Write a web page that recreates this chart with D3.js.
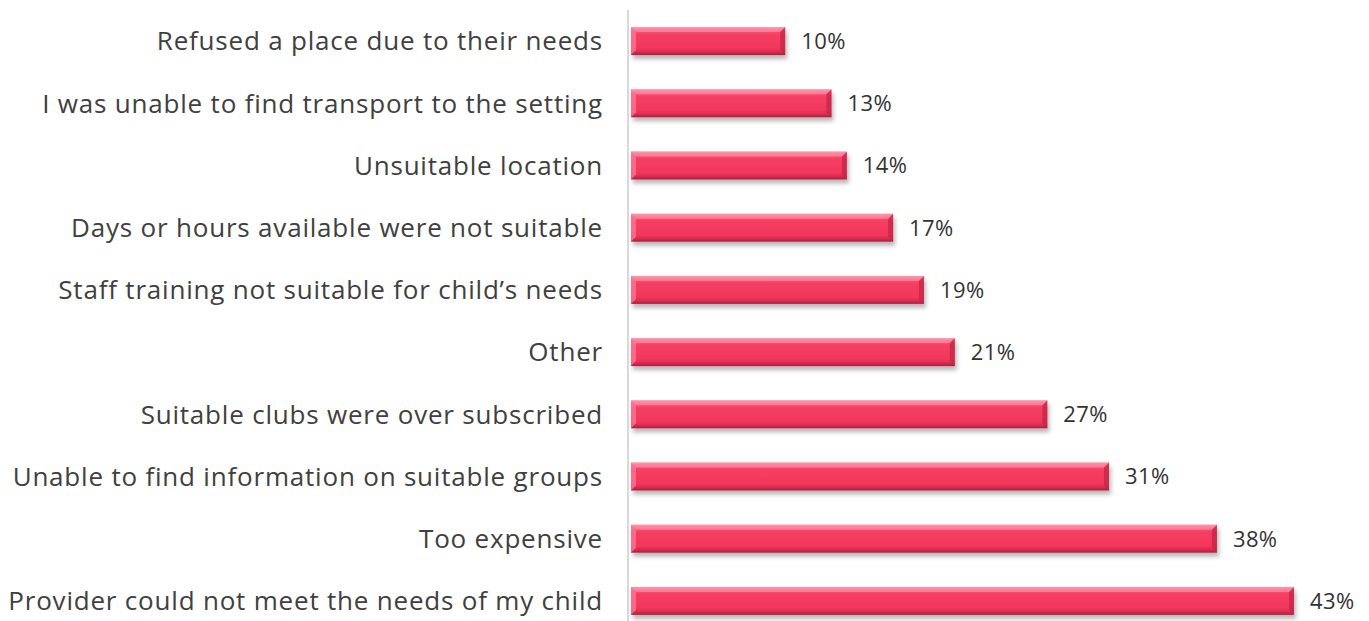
<!DOCTYPE html>
<html>
<head>
<meta charset="utf-8">
<script src="https://cdn.jsdelivr.net/npm/d3@7"></script>
<style>
  html, body { margin: 0; padding: 0; background: #fff; }
  svg { display: block; }
</style>
</head>
<body>
<svg id="chart" width="1369" height="621"></svg>
<script>
// Reasons given for not using a setting, share of respondents (%)
const categories = [
  "Refused a place due to their needs",
  "I was unable to find transport to the setting",
  "Unsuitable location",
  "Days or hours available were not suitable",
  "Staff training not suitable for child\u2019s needs",
  "Other",
  "Suitable clubs were over subscribed",
  "Unable to find information on suitable groups",
  "Too expensive",
  "Provider could not meet the needs of my child"
];
const values = [10, 13, 14, 17, 19, 21, 27, 31, 38, 43];
const valueLabels = values.map(v => v + "%");

const svg = d3.select("#chart");
const W = 1369, H = 621;
const axisX = 628;
const barX0 = 631;

const x = d3.scaleLinear().domain([0, 43]).range([barX0, 1294]);
const y = d3.scaleBand().domain(categories).range([10, 632]).paddingInner(0.55).paddingOuter(0.275);

const defs = svg.append("defs");
const grad = defs.append("linearGradient").attr("id", "barFill")
  .attr("x1", 0).attr("y1", 0).attr("x2", 0).attr("y2", 1);
[[0, "#ff8aa2"], [0.12, "#fb5a7a"], [0.25, "#f53f63"], [0.75, "#f2375c"], [0.88, "#dc2d50"], [1, "#a81f3d"]]
  .forEach(([o, c]) => grad.append("stop").attr("offset", o).attr("stop-color", c));

const shadow = defs.append("filter").attr("id", "barShadow")
  .attr("x", "-5%").attr("y", "-30%").attr("width", "115%").attr("height", "180%");
shadow.append("feDropShadow").attr("dx", 2).attr("dy", 4).attr("stdDeviation", 2.2)
  .attr("flood-color", "#000").attr("flood-opacity", 0.28);

// vertical category axis line
svg.append("line")
  .attr("x1", axisX).attr("x2", axisX)
  .attr("y1", 10).attr("y2", H)
  .attr("stroke", "#d9d9d9").attr("stroke-width", 2);

const rows = svg.append("g").selectAll("g").data(categories).join("g");

rows.append("rect")
  .attr("x", barX0)
  .attr("y", d => y(d))
  .attr("width", (d, i) => x(values[i]) - barX0)
  .attr("height", y.bandwidth())
  .attr("fill", "url(#barFill)")
  .attr("filter", "url(#barShadow)");

// bevelled edges
rows.append("path")
  .attr("d", (d, i) => {
    const x1 = x(values[i]), t = y(d), b = t + y.bandwidth(), e = 5;
    return `M${x1},${t} L${x1},${b} L${x1 - e},${b - e} L${x1 - e},${t + e} Z`;
  })
  .attr("fill", "#c42646").attr("opacity", 0.75);
rows.append("path")
  .attr("d", (d, i) => {
    const x1 = x(values[i]), t = y(d), e = 5;
    return `M${barX0},${t} L${x1},${t} L${x1 - e},${t + e} L${barX0 + e},${t + e} Z`;
  })
  .attr("fill", "#ff9db1").attr("opacity", 0.55);
rows.append("path")
  .attr("d", (d, i) => {
    const t = y(d), b = t + y.bandwidth(), e = 5;
    return `M${barX0},${t} L${barX0 + e},${t + e} L${barX0 + e},${b - e} L${barX0},${b} Z`;
  })
  .attr("fill", "#ff7e98").attr("opacity", 0.7);

rows.append("text")
  .attr("x", 603)
  .attr("y", d => y(d) + y.bandwidth() / 2)
  .attr("dy", "0.36em")
  .attr("text-anchor", "end")
  .attr("font-family", "'Open Sans', sans-serif")
  .attr("font-size", 26)
  .attr("letter-spacing", 0.8)
  .attr("fill", "#404040")
  .text(d => d);

rows.append("text")
  .attr("x", (d, i) => x(values[i]) + 16)
  .attr("y", d => y(d) + y.bandwidth() / 2)
  .attr("dy", "0.36em")
  .attr("font-family", "'Open Sans', sans-serif")
  .attr("font-size", 22)
  .attr("letter-spacing", 0.4)
  .attr("fill", "#333")
  .text((d, i) => valueLabels[i]);
</script>
</body>
</html>
